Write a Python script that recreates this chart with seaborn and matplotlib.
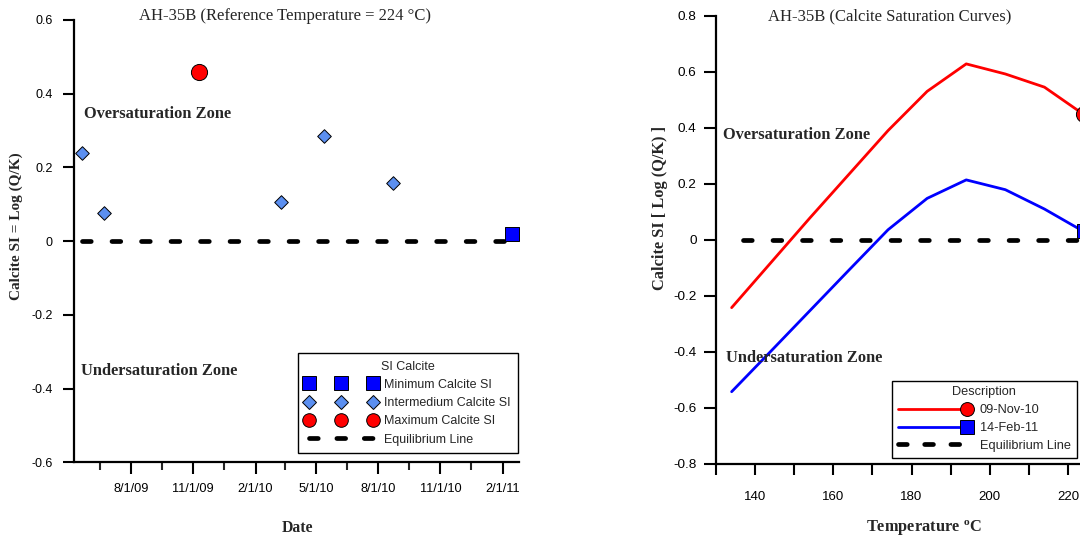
import matplotlib
matplotlib.use("Agg")
import matplotlib.pyplot as plt
from matplotlib.lines import Line2D
from matplotlib.legend_handler import HandlerLine2D
from matplotlib.ticker import MultipleLocator
import numpy as np
import pandas as pd
import seaborn as sns

# ---------------------------------------------------------------
# AH-35B calcite saturation index at the reference temperature
# ---------------------------------------------------------------
sample_dates = ["2009-05-21", "2009-06-22", "2009-11-09", "2010-03-11",
                "2010-05-13", "2010-08-23", "2011-02-14"]
sample_si = [0.240, 0.077, 0.458, 0.106, 0.284, 0.157, 0.020]
sample_group = ["Intermedium Calcite SI", "Intermedium Calcite SI",
                "Maximum Calcite SI", "Intermedium Calcite SI",
                "Intermedium Calcite SI", "Intermedium Calcite SI",
                "Minimum Calcite SI"]
group_names = ["Minimum Calcite SI", "Intermedium Calcite SI", "Maximum Calcite SI"]

date_ticks = ["2009-08-01", "2009-11-01", "2010-02-01", "2010-05-01",
              "2010-08-01", "2010-11-01", "2011-02-01"]
date_minor_ticks = ["2009-06-16", "2009-09-16", "2009-12-16", "2010-03-16",
                    "2010-06-16", "2010-09-16", "2010-12-16"]
date_limits = ["2009-05-09", "2011-02-25"]
si_ticks_left = [-0.6, -0.4, -0.2, 0.0, 0.2, 0.4, 0.6]

# ---------------------------------------------------------------
# Calcite saturation curves vs. temperature
# ---------------------------------------------------------------
temperature = [134, 144, 154, 164, 174, 184, 194, 204, 214, 224]
si_nov10 = [-0.242, -0.082, 0.078, 0.234, 0.390, 0.530, 0.628, 0.592, 0.545, 0.448]
si_feb11 = [-0.542, -0.398, -0.253, -0.108, 0.036, 0.148, 0.214, 0.179, 0.110, 0.030]
curve_names = ["09-Nov-10", "14-Feb-11"]
equil_temp = [137, 224]
si_ticks_right = [-0.8, -0.6, -0.4, -0.2, 0.0, 0.2, 0.4, 0.6, 0.8]

# ---------------------------------------------------------------
sns.set_theme(style="ticks")
plt.rcParams["font.family"] = ["Liberation Sans", "DejaVu Sans"]
plt.rcParams["mathtext.fontset"] = "custom"
plt.rcParams["mathtext.rm"] = "Liberation Serif"
plt.rcParams["mathtext.bf"] = "Liberation Serif:bold"
SERIF = "Liberation Serif"

C_RED = "#ff0000"
C_BLUE = "#0000ff"
C_DIAMOND = "#5b8ff0"
EQ_DASH = (0, (1.85, 4.4))
EQ_LW = 3.4

W, H = 1080, 540
fig = plt.figure(figsize=(W / 100, H / 100), dpi=100)


def frame(x0, x1, ytop, ybot):
    return [x0 / W, 1 - ybot / H, (x1 - x0) / W, (ybot - ytop) / H]


def fpos(x, y):
    return x / W, 1 - y / H


def si_label(v):
    return "0" if abs(v) < 1e-9 else f"{v:g}"


class EndMarkerHandler(HandlerLine2D):
    """Legend line with its marker drawn only at the right end."""

    def create_artists(self, *args, **kwargs):
        artists = super().create_artists(*args, **kwargs)
        for art in artists:
            n = len(art.get_xdata())
            art.set_markevery([n - 1])
        return artists


ax1 = fig.add_axes(frame(74, 519, 20, 462.3))
ax2 = fig.add_axes(frame(716, 1107, 15.7, 464))

# ---------------- left panel: SI history ----------------
hist = pd.DataFrame({"date": pd.to_datetime(sample_dates),
                     "si": sample_si, "group": sample_group})
style = {
    "Minimum Calcite SI": dict(marker="s", s=110, color=C_BLUE),
    "Intermedium Calcite SI": dict(marker="D", s=48, color=C_DIAMOND),
    "Maximum Calcite SI": dict(marker="o", s=135, color=C_RED),
}

eq_hist = pd.DataFrame({"date": [hist["date"].min(), hist["date"].max()],
                        "si": [0.0, 0.0]})
sns.lineplot(data=eq_hist, x="date", y="si", ax=ax1, color="black",
             linewidth=EQ_LW, linestyle=EQ_DASH, dash_capstyle="round",
             errorbar=None, legend=False, zorder=2)

for name in group_names:
    sub = hist[hist["group"] == name]
    sns.scatterplot(data=sub, x="date", y="si", ax=ax1, edgecolor="black",
                    linewidth=0.7, legend=False, zorder=4, **style[name])

ax1.set_xlim(pd.Timestamp(date_limits[0]), pd.Timestamp(date_limits[1]))
ax1.set_ylim(-0.6, 0.6)
tick_dates = pd.to_datetime(date_ticks)
ax1.set_xticks(tick_dates)
ax1.set_xticklabels([f"{d.month}/{d.day}/{d.year % 100:02d}" for d in tick_dates])
ax1.set_xticks(pd.to_datetime(date_minor_ticks), minor=True)
ax1.set_yticks(si_ticks_left)
ax1.set_yticklabels([si_label(v) for v in si_ticks_left])
ax1.set_xlabel("")
ax1.set_ylabel("")
ax1.tick_params(axis="x", which="major", direction="out", length=8.6, width=1.5,
                pad=6.5, labelsize=9.2, colors="black")
ax1.tick_params(axis="x", which="minor", direction="out", length=5.8, width=1.5)
ax1.tick_params(axis="y", direction="out", length=8, width=1.5, pad=7.5,
                labelsize=9, colors="black")

leg1_handles = [
    Line2D([], [], ls="none", marker="s", ms=9.6, mfc=C_BLUE, mec="black", mew=0.7),
    Line2D([], [], ls="none", marker="D", ms=6.9, mfc=C_DIAMOND, mec="black", mew=0.7),
    Line2D([], [], ls="none", marker="o", ms=9.8, mfc=C_RED, mec="black", mew=0.7),
    Line2D([], [], color="black", lw=EQ_LW, ls=(0, (1.85, 3.95)),
           dash_capstyle="round"),
]
leg1 = ax1.legend(leg1_handles, group_names + ["Equilibrium Line"],
                  title="SI Calcite", loc="lower right",
                  bbox_to_anchor=fpos(518, 453), bbox_transform=fig.transFigure,
                  borderaxespad=0, numpoints=3, handlelength=5.7,
                  handletextpad=0.6, labelspacing=0.5, borderpad=0.6,
                  fancybox=False, framealpha=1, edgecolor="black",
                  fontsize=9, title_fontsize=9)
leg1.get_frame().set_linewidth(1.0)

# ---------------- right panel: saturation curves ----------------
curves = pd.DataFrame({
    "temperature": temperature * 2,
    "si": si_nov10 + si_feb11,
    "sample": [curve_names[0]] * len(temperature) + [curve_names[1]] * len(temperature),
})
sns.lineplot(data=curves, x="temperature", y="si", hue="sample",
             palette={curve_names[0]: C_RED, curve_names[1]: C_BLUE},
             linewidth=2.0, sort=False, errorbar=None, legend=False, ax=ax2,
             zorder=3)
eq_curve = pd.DataFrame({"temperature": equil_temp, "si": [0.0, 0.0]})
sns.lineplot(data=eq_curve, x="temperature", y="si", ax=ax2, color="black",
             linewidth=EQ_LW, linestyle=EQ_DASH, dash_capstyle="round",
             errorbar=None, legend=False, zorder=2)
sns.scatterplot(x=[temperature[-1]], y=[si_nov10[-1]], ax=ax2, marker="o",
                s=135, color=C_RED, edgecolor="black", linewidth=0.7,
                legend=False, zorder=5)
sns.scatterplot(x=[temperature[-1]], y=[si_feb11[-1]], ax=ax2, marker="s",
                s=110, color=C_BLUE, edgecolor="black", linewidth=0.7,
                legend=False, zorder=5)

ax2.set_xlim(130, 230)
ax2.set_ylim(-0.8, 0.8)
ax2.xaxis.set_major_locator(MultipleLocator(20))
ax2.xaxis.set_minor_locator(MultipleLocator(10))
ax2.set_yticks(si_ticks_right)
ax2.set_yticklabels([si_label(v) for v in si_ticks_right])
ax2.set_xlabel("")
ax2.set_ylabel("")
ax2.tick_params(axis="x", which="both", direction="out", length=8, width=1.5,
                pad=11.5, labelsize=9.5, colors="black")
ax2.tick_params(axis="y", direction="out", length=8.4, width=1.5, pad=5.5,
                labelsize=9.7, colors="black")

leg2_handles = [
    Line2D([], [], color=C_RED, lw=2.0, marker="o", ms=10, mfc=C_RED,
           mec="black", mew=0.7),
    Line2D([], [], color=C_BLUE, lw=2.0, marker="s", ms=10, mfc=C_BLUE,
           mec="black", mew=0.7),
    Line2D([], [], color="black", lw=EQ_LW, ls=(0, (1.85, 3.7)),
           dash_capstyle="round"),
]
end_marker = EndMarkerHandler(marker_pad=0)
leg2 = ax2.legend(leg2_handles, curve_names + ["Equilibrium Line"],
                  title="Description", loc="lower right",
                  bbox_to_anchor=fpos(1076.7, 457.5), bbox_transform=fig.transFigure,
                  borderaxespad=0, numpoints=2, handlelength=5.4,
                  handletextpad=1.05, labelspacing=0.45, borderpad=0.45,
                  fancybox=False, framealpha=1, edgecolor="black",
                  fontsize=9.2, title_fontsize=9.2,
                  handler_map={leg2_handles[0]: end_marker,
                               leg2_handles[1]: end_marker,
                               leg2_handles[2]: HandlerLine2D(marker_pad=0)})
leg2.get_frame().set_linewidth(1.0)

# ---------------- spines ----------------
for ax in (ax1, ax2):
    sns.despine(ax=ax)
    for side in ("left", "bottom"):
        ax.spines[side].set_linewidth(1.6)
        ax.spines[side].set_color("black")
    ax.grid(False)

# ---------------- titles, axis labels, zone labels ----------------
fig.text(*fpos(285, 16), "AH-35B (Reference Temperature = 224 \u00b0C)",
         family=SERIF, fontsize=12, ha="center", va="center")
fig.text(*fpos(890, 16), "AH-35B (Calcite Saturation Curves)",
         family=SERIF, fontsize=12, ha="center", va="center")

fig.text(*fpos(297, 528), "Date", family=SERIF, fontweight="bold",
         fontsize=11.3, ha="center", va="center")
fig.text(*fpos(924, 528), r"Temperature $^{\mathbf{o}}$C", family=SERIF,
         fontweight="bold", fontsize=11.8, ha="center", va="center")
fig.text(*fpos(16, 226), "Calcite SI = Log (Q/K)", family=SERIF,
         fontweight="bold", fontsize=11, rotation=90, ha="center", va="center")
fig.text(*fpos(660, 207.5), "Calcite SI [ Log (Q/K) ]", family=SERIF,
         fontweight="bold", fontsize=11.8, rotation=90, ha="center", va="center")

zone_kw = dict(family=SERIF, fontweight="bold", fontsize=11.8, ha="left", va="center")
fig.text(*fpos(84, 114), "Oversaturation Zone", **zone_kw)
fig.text(*fpos(81, 371), "Undersaturation Zone", **zone_kw)
fig.text(*fpos(723, 135), "Oversaturation Zone", **zone_kw)
fig.text(*fpos(726, 358), "Undersaturation Zone", **zone_kw)

fig.savefig("out.png", dpi=100)
